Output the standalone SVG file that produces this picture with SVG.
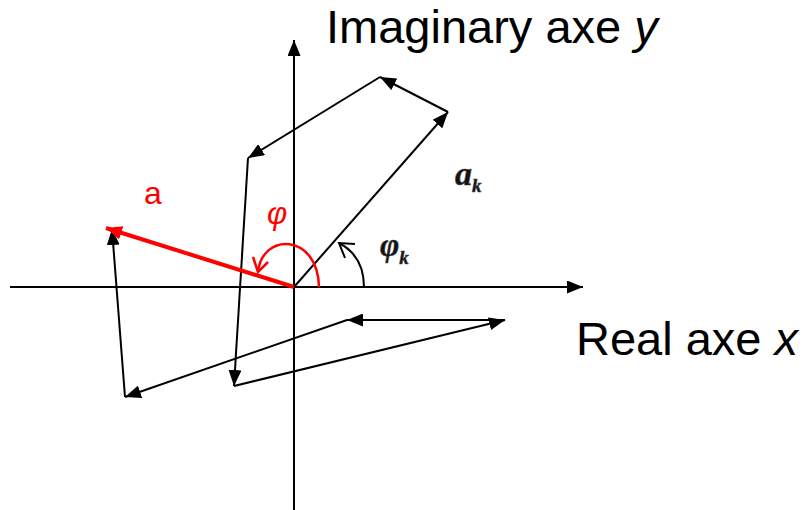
<svg xmlns="http://www.w3.org/2000/svg" width="804" height="510" viewBox="0 0 804 510">
<defs>
<style>
.ln{stroke:#000;stroke-width:2;fill:none}
.vk{stroke:#000;stroke-width:2;fill:none;marker-end:url(#ah)}
.red{stroke:#ff0000;stroke-width:4;fill:none;marker-end:url(#ahr)}
.arc{stroke:#000;stroke-width:2;fill:none}
.arcr{stroke:#ff0000;stroke-width:2.5;fill:none}
.lbl{font-family:"Liberation Sans",Arial,sans-serif;fill:#000}
.sym{font-family:"Liberation Serif","Times New Roman",serif;font-weight:bold;font-style:italic;fill:#111;stroke:#444;stroke-width:0.6}
</style>
<marker id="ah" markerUnits="userSpaceOnUse" markerWidth="17" markerHeight="13" refX="16" refY="6.5" orient="auto">
<path d="M0,0 L16,6.5 L0,13 z" fill="#000"/>
</marker>
<marker id="ahr" markerUnits="userSpaceOnUse" markerWidth="18" markerHeight="14" refX="16" refY="7" orient="auto">
<path d="M0,0 L16,7 L0,14 z" fill="#ff0000"/>
</marker>
</defs>
<g id="axes">
<line class="vk" x1="10" y1="287" x2="583" y2="287"/>
<line class="vk" x1="294" y1="510" x2="294" y2="40"/>
</g>
<g id="connectors">
<line class="vk" x1="294" y1="287" x2="448" y2="112"/>
<line class="vk" x1="448" y1="112" x2="380" y2="77"/>
<line class="vk" x1="380" y1="77" x2="248" y2="158"/>
<line class="vk" x1="248" y1="158" x2="234" y2="386"/>
<line class="vk" x1="234" y1="386" x2="505" y2="320"/>
<line class="vk" x1="505" y1="320" x2="347" y2="320"/>
<line class="vk" x1="347" y1="320" x2="125" y2="397"/>
<line class="vk" x1="125" y1="397" x2="112" y2="229"/>
<line class="red" x1="294" y1="287" x2="106" y2="228"/>
</g>
<g id="angle-phi">
<path class="arcr" d="M319,287 C318,233 262,232 258,272"/>
<path class="arcr" d="M253,257 L258,272 L268,262"/>
<text class="lbl" x="267" y="224" font-size="31" font-style="italic" style="fill:#ff0000">φ</text>
</g>
<g id="angle-phik">
<path class="arc" d="M364,287 C364,266 356,252 339,243"/>
<path class="arc" d="M345,258 L339,243 L355,244"/>
<text class="sym" x="380" y="256" font-size="33">φ<tspan font-size="19" dy="8">k</tspan></text>
</g>
<g id="label-a">
<text class="lbl" x="144" y="204" font-size="32" style="fill:#ff0000">a</text>
</g>
<g id="label-ak">
<text class="sym" x="455" y="185" font-size="34">a<tspan font-size="19" dy="7">k</tspan></text>
</g>
<g id="label-y">
<text class="lbl" x="326" y="43" font-size="47">Imaginary axe <tspan font-style="italic">y</tspan></text>
</g>
<g id="label-x">
<text class="lbl" x="576" y="355" font-size="47">Real axe <tspan font-style="italic">x</tspan></text>
</g>
</svg>
